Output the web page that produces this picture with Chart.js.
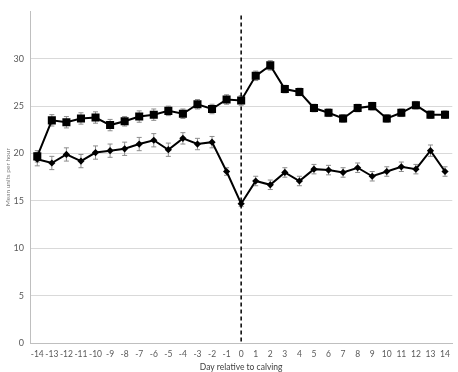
<!DOCTYPE html>
<html>
<head>
<meta charset="utf-8">
<script src="https://cdn.jsdelivr.net/npm/chart.js@4/dist/chart.umd.min.js"></script>
<style>
  html, body { margin: 0; padding: 0; background: #fff; }
  #wrap { width: 458px; height: 372px; position: relative; }
</style>
</head>
<body>
<div id="wrap"><canvas id="lineChart"></canvas></div>
<script>
// days relative to calving
var days = ["-14","-13","-12","-11","-10","-9","-8","-7","-6","-5","-4","-3","-2","-1",
            "0","1","2","3","4","5","6","7","8","9","10","11","12","13","14"];
// square series
var squareVals = [19.7,23.5,23.3,23.7,23.8,23.0,23.4,23.9,24.1,24.5,24.2,25.2,24.7,25.7,
                  25.6,28.2,29.3,26.8,26.5,24.8,24.3,23.7,24.8,25.0,23.7,24.3,25.1,24.1,24.1];
var squareErr = [0.6,0.6,0.6,0.6,0.6,0.6,0.5,0.6,0.6,0.5,0.5,0.5,0.5,0.5,
                 0.5,0.5,0.5,0.4,0.4,0.4,0.4,0.4,0.4,0.4,0.4,0.4,0.4,0.4,0.4];
// diamond series
var diamondVals = [19.4,19.0,19.9,19.2,20.1,20.3,20.5,21.0,21.4,20.4,21.6,21.0,21.2,18.1,
                   14.7,17.1,16.7,18.0,17.1,18.35,18.25,18.0,18.5,17.6,18.1,18.6,18.35,20.3,18.1];
var diamondErr = [0.7,0.7,0.7,0.7,0.7,0.7,0.7,0.7,0.7,0.7,0.6,0.6,0.6,0.4,
                  0.3,0.5,0.5,0.5,0.5,0.5,0.5,0.5,0.5,0.5,0.5,0.5,0.5,0.6,0.5];
var yTicks = [0,5,10,15,20,25,30,35];

var errLists = [squareErr, diamondErr];

// error bars behind the markers
var errorBars = {
  id: 'errorBars',
  beforeDatasetsDraw: function(chart){
    var ctx = chart.ctx, ys = chart.scales.y;
    ctx.save();
    ctx.strokeStyle = '#8c8c8c';
    ctx.lineWidth = 1;
    chart.data.datasets.forEach(function(ds, d){
      var meta = chart.getDatasetMeta(d);
      meta.data.forEach(function(pt, i){
        var v = ds.data[i], e = errLists[d][i];
        var y1 = ys.getPixelForValue(v + e), y2 = ys.getPixelForValue(v - e);
        ctx.beginPath();
        ctx.moveTo(pt.x, y1); ctx.lineTo(pt.x, y2);
        ctx.moveTo(pt.x - 2.5, y1); ctx.lineTo(pt.x + 2.5, y1);
        ctx.moveTo(pt.x - 2.5, y2); ctx.lineTo(pt.x + 2.5, y2);
        ctx.stroke();
      });
    });
    ctx.restore();
  }
};

// dashed line at calving day
var calvingLine = {
  id: 'calvingLine',
  afterDatasetsDraw: function(chart){
    var ctx = chart.ctx, xs = chart.scales.x, area = chart.chartArea;
    var x = xs.getPixelForValue(days.indexOf("0"));
    ctx.save();
    ctx.strokeStyle = '#000';
    ctx.lineWidth = 1.5;
    ctx.setLineDash([4, 3]);
    ctx.beginPath();
    ctx.moveTo(x, area.top + 4);
    ctx.lineTo(x, area.bottom);
    ctx.stroke();
    ctx.restore();
  }
};

var ctx = document.getElementById("lineChart");
var myChart = new Chart(ctx, {
  type: 'line',
  data: {
    labels: days,
    datasets: [
      {
        label: "Square",
        data: squareVals,
        borderColor: "#000",
        backgroundColor: "#000",
        borderWidth: 2,
        pointStyle: 'rect',
        pointRadius: 5.7,
        pointBorderWidth: 0,
        tension: 0
      },
      {
        label: "Diamond",
        data: diamondVals,
        borderColor: "#000",
        backgroundColor: "#000",
        borderWidth: 2,
        pointStyle: 'rectRot',
        pointRadius: 3.6,
        pointBorderWidth: 0,
        tension: 0
      }
    ]
  },
  options: {
    responsive: true,
    maintainAspectRatio: false,
    animation: false,
    layout: { padding: { top: 3, right: 5, left: 0, bottom: 0 } },
    plugins: { legend: { display: false }, tooltip: { enabled: false } },
    scales: {
      x: {
        offset: true,
        grid: { display: false, drawTicks: false },
        border: { color: '#bfbfbf', width: 1 },
        ticks: { color: '#595959', font: { family: 'Lato', size: 8.5 }, padding: 6, maxRotation: 0, autoSkip: false },
        title: { display: true, text: 'Day relative to calving', color: '#404040',
                 font: { family: 'Lato', size: 8.5 }, padding: { top: 0, bottom: 0 } },
        afterFit: function(s){ s.height = 29; }
      },
      y: {
        min: 0, max: 35,
        afterBuildTicks: function(s){ s.ticks = yTicks.map(function(v){ return { value: v }; }); },
        grid: {
          drawTicks: false,
          color: function(c){ return (c.tick && c.tick.value === 35) ? 'rgba(0,0,0,0)' : '#d9d9d9'; }
        },
        border: { color: '#bfbfbf', width: 1 },
        ticks: {
          color: '#595959', font: { family: 'Lato', size: 9 }, padding: 6,
          callback: function(v){ return v === 35 ? '' : v; }
        },
        title: { display: true, text: 'Mean units per hour', color: '#7f7f7f',
                 font: { family: 'Lato', size: 6.5 }, padding: { top: 4, bottom: 0 } },
        afterFit: function(s){ s.width = 30; }
      }
    }
  },
  plugins: [errorBars, calvingLine]
});
</script>
</body>
</html>
